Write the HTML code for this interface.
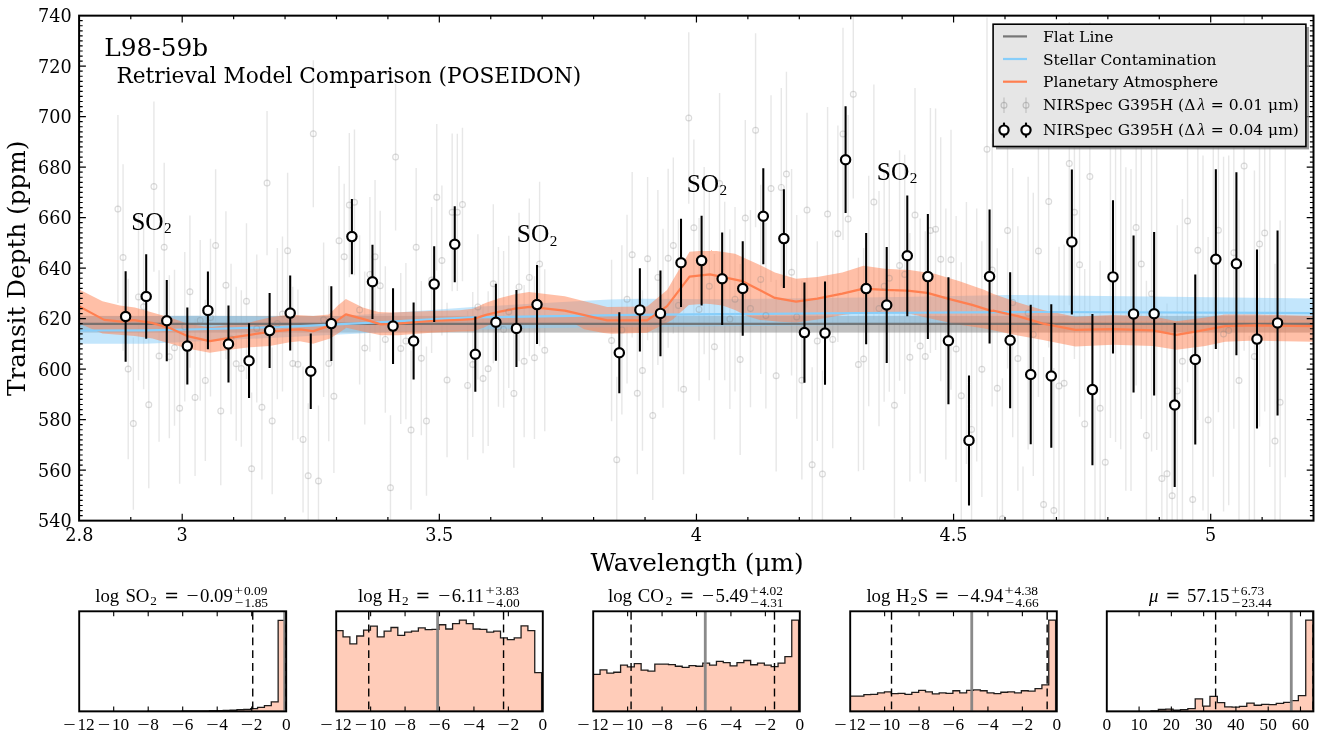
<!DOCTYPE html>
<html lang="en"><head><meta charset="utf-8"><title>L98-59b Retrieval Model Comparison (POSEIDON)</title>
<style>html,body{margin:0;padding:0;background:#fff;}body{width:1323px;height:737px;overflow:hidden;}svg{display:block;}svg{font-family:"DejaVu Serif", "Liberation Serif", serif;}text{fill:#000;}.m{font-family:"Liberation Serif", "DejaVu Serif", serif;}</style></head><body>
<svg width="1323" height="737" viewBox="0 0 1323 737">
<rect x="0" y="0" width="1323" height="737" fill="#fff"/>
<defs><clipPath id="cm"><rect x="79.1" y="15.65" width="1234.4" height="505"/></clipPath></defs>
<g clip-path="url(#cm)">
<g stroke="#7f7f7f" stroke-opacity="0.19" stroke-width="1.4" fill="none">
<path d="M117.92 115.1V303.1M123.06 164.25V350.75M128.2 278.83V459.17M133.35 337.46V509.74M138.49 213.55V380.25M143.63 224.19V389.21M148.77 321.19V488.21M153.92 101.48V271.72M159.06 270.31V441.69M164.2 162.87V331.73M169.34 275.19V438.21M174.49 269.63V425.77M179.63 332.63V483.77M184.77 252.03V401.57M189.91 215.58V367.82M195.06 318.76V476.04M200.2 239.99V400.81M205.34 299.86V460.94M210.48 238.76V396.44M215.63 169.24V321.76M220.77 336.55V485.25M225.91 211.16V359.24M231.05 263.77V414.23M236.2 286.68V440.72M241.34 290.27V446.73M246.48 223.28V379.12M251.62 392.52V545.08M256.77 254.4V402.6M261.91 334.85V479.55M267.05 111.04V255.16M272.19 347.52V494.28M277.34 248V399.2M282.48 236.62V391.58M287.62 172.84V328.76M292.76 286.65V440.35M297.91 289.39V439.01M303.05 366.4V512.4M308.19 403.28V548.32M313.33 60.15V207.25M318.48 405.54V556.46M323.62 242.58V397.02M328.76 285.79V441.21M333.9 319.48V472.92M339.05 166.02V315.58M344.19 183.85V329.55M349.33 132.98V277.22M354.47 129.41V275.19M359.62 235.21V384.59M364.76 271.45V424.55M369.9 197.11V351.69M375.04 180.04V333.36M380.19 210.66V360.74M385.33 266.17V412.63M390.47 415.36V560.24M395.61 83.79V230.41M400.76 272.96V424.04M405.9 263.02V419.18M411.04 350.44V509.76M416.18 168.04V326.56M421.33 281.08V435.32M426.47 346.49V495.71M431.61 207.01V352.99M436.75 124.12V270.48M441.9 185.5V335.5M447.04 302.68V457.32M452.18 133.44V291.16M457.32 133.66V290.94M462.47 127.85V281.35M467.61 311.12V459.68M472.75 291.99V437.01M477.89 234.27V379.53M483.04 303.85V453.15M488.18 291.31V446.09M493.32 204.15V363.25M498.46 246.88V406.72M503.61 250.99V407.81M508.75 235.69V387.91M513.89 319.09V467.71M519.03 212.63V361.17M524.18 285.04V437.36M529.32 198.43V356.37M534.46 276.3V439.1M539.6 181.84V346.16M544.75 269.22V431.18M611.6 259.84V421.36M616.74 376.64V542.96M621.88 245.35V414.45M627.03 214.85V383.55M632.17 172.05V337.55M637.31 312.23V474.17M642.45 290.13V450.87M647.6 177.06V340.34M652.74 331.17V500.03M657.88 189.88V364.92M663.02 228.8V407.8M668.17 168.64V347.76M673.31 157.51V333.49M678.45 219.4V391.4M683.59 304.24V474.16M688.74 32.25V203.75M693.88 139.52V316.08M699.02 218.05V400.75M704.16 167V354.2M709.31 192.12V380.28M714.45 253.99V439.41M719.59 92.95V274.25M724.73 201.66V380.34M729.88 229.24V408.96M735.02 206.88V391.52M740.16 263.91V455.09M745.3 120.04V316.16M750.45 210.04V407.16M755.59 33.15V227.25M760.73 184.82V373.98M765.87 222.67V408.53M771.02 95.27V281.93M776.16 279.85V471.55M781.3 87.93V286.87M786.44 71.7V276.5M791.59 168.93V375.47M796.73 214.95V418.85M801.87 280.8V479.6M807.01 112.65V307.55M812.16 367.28V562.32M817.3 241.24V440.96M822.44 370.5V577.7M827.58 107V321.2M832.73 230.56V448.24M837.87 125.58V342.02M843.01 27.86V239.94M848.15 114.95V323.25M853.3 -9.99V198.39M858.44 257.83V471.17M863.58 248.1V469.9M868.72 175.86V406.14M873.87 84.45V319.75M879.01 191V426.2M884.15 170.57V401.83M889.29 164.69V391.71M894.44 292.1V518.3M899.58 150.16V380.84M904.72 154.71V394.09M909.86 232.89V481.51M915.01 87.88V342.32M920.15 218.59V473.41M925.29 231.19V481.81M930.43 108.08V352.92M935.58 108.48V350.12M940.72 137.2V381.2M945.86 208.41V459.59M951 129.71V389.69M956.15 215.92V482.08M961.29 262.32V529.08M966.43 201.88V464.12M971.57 301.28V557.52M976.72 208.42V461.58M981.86 241.36V497.04M987 17.38V281.02M992.14 133.4V406.6M997.29 248.32V528.08M1002.43 378.36V659.04M1007.57 92.54V368.46M1012.71 168.07V437.13M1017.86 226.18V490.82M1023 466.61V732.39M1028.14 176.68V449.52M1033.28 192.86V475.94M1038.43 105.1V396.9M1043.57 356.99V652.01M1048.71 55.59V347.61M1053.85 368.05V652.95M1059 246.63V525.17M1064.14 244.39V522.01M1069.28 22.04V305.16M1074.42 65.51V359.09M1079.57 112.54V416.86M1084.71 269V578.8M1089.85 22.3V330.9M1094.99 398.73V700.67M1100.14 260.81V555.59M1105.28 315.86V608.74M1110.42 140.07V437.93M1115.56 134.04V441.96M1120.71 130.87V449.13M1125.85 167.2V490.8M1130.99 169.05V490.95M1136.13 69.61V385.39M1141.28 108.97V419.03M1146.42 280.83V589.97M1151.56 135.97V451.43M1156.7 124.02V449.98M1161.85 310.79V646.41M1166.99 303.51V644.09M1172.13 326.71V664.89M1177.27 225.25V556.55M1182.42 198.88V523.52M1187.56 59.86V382.14M1192.7 335.83V663.17M1197.84 80.33V420.07M1202.99 155.57V510.43M1208.13 236.92V602.88M1213.27 107.3V476.7M1218.41 48.24V412.36M1223.56 156.63V511.57M1228.7 155.56V505.24M1233.84 76.58V428.82M1238.98 200.31V560.69M1244.13 -18.54V350.74M1249.27 335.63V710.17M1254.41 170.43V542.57M1259.55 61.56V426.44M1264.7 54.48V411.52M1269.84 114.94V467.06M1274.98 263.76V618.44M1280.12 220.39V584.01M1285.27 102.64V477.36"/>
</g>
<rect x="79.1" y="315.9" width="1234.4" height="16.7" fill="#808080" fill-opacity="0.5"/>
<polygon points="79.35,316.5 200,315.7 260,316.4 330,316.6 390,313 473,307 590,300.6 610,299.6 640,298.8 720,299.2 900,297 1008,295 1170,296.8 1313.6,298.6 1313.6,320 1040,322 860,325 720,326.3 540,328 400,331.5 170,342.8 145,343.8 79.35,343.7" fill="#87cefa" fill-opacity="0.5"/>
<polygon points="79.24,289.43 102.45,301.16 119.93,305.4 134.9,307.4 152.38,312.39 169.85,317.38 187.32,323.62 209.79,327.37 229.76,324.87 249.73,322.38 269.7,317.38 289.67,314.39 299.91,315.14 313.14,315.89 328.86,314.39 337.85,305.4 345.84,298.91 362.81,307.4 378.54,311.89 391.5,312.39 430.69,310.89 459.9,310.14 472.88,308.65 486.11,302.66 499.09,298.16 514.81,294.17 529.04,291.92 564.74,296.17 607.17,306.9 647.11,306.4 667.08,289.93 689.55,251.73 712.02,249.99 710,249.99 734.96,253.73 759.93,264.96 774.9,272.45 796.12,278.69 817.34,276.94 842.3,272.45 863.52,265.71 884.74,268.71 909.7,269.96 934.66,273.7 959.63,281.19 984.59,289.93 993,293.67 1017.96,302.41 1042.93,309.9 1075.38,316.64 1112.82,314.89 1152.76,316.14 1176.47,321.13 1205.18,317.38 1225.15,314.39 1255.11,314.39 1315.02,316.14 1315.02,341.85 1255.11,340.6 1225.15,341.85 1205.18,346.09 1176.47,349.84 1152.76,346.09 1112.82,344.84 1075.38,346.59 1042.93,340.1 1017.96,335.61 993,330.36 984.59,328.62 959.63,324.87 934.66,319.38 909.7,313.64 884.74,311.89 863.52,312.39 842.3,314.89 817.34,319.38 796.12,322.38 779.9,321.63 759.93,319.88 747.44,316.14 734.96,309.9 722.48,305.4 710,303.9 705.03,303.65 688.8,304.9 672.08,319.88 647.11,332.86 611.67,333.86 603.68,333.11 584.21,329.37 574.97,324.12 489.85,324.62 483.61,327.87 472.88,331.36 459.9,331.61 430.69,332.86 397.99,335.36 381.03,335.36 362.81,331.61 346.34,327.87 339.1,332.86 330.11,338.6 313.14,343.84 299.91,341.35 289.67,342.35 269.7,346.09 249.73,347.34 229.76,349.84 209.79,352.83 187.32,348.59 169.85,343.59 152.38,338.6 134.9,336.11 102.45,333.61 79.24,323.62" fill="#ff7f50" fill-opacity="0.5"/>
<line x1="79.1" x2="1313.5" y1="323.8" y2="323.8" stroke="#696969" stroke-width="2.2" stroke-opacity="0.85"/>
<polyline points="79.35,330.5 145,330.3 210,329 270,327.3 300,326.2 378,322.3 431,319.4 473,317.3 540,316.4 633,314.8 720,314.2 860,313 1040,312 1313.6,313.1" fill="none" stroke="#87cefa" stroke-width="2.2" stroke-linejoin="round"/>
<polyline points="79.24,306.4 104.2,319.88 121.67,321.63 133.65,320.13 151.88,322.88 169.85,328.12 187.32,336.11 209.79,341.1 229.76,337.85 249.73,334.86 269.7,331.86 289.67,329.87 299.91,329.37 313.14,331.11 330.11,325.62 345.84,314.39 362.81,318.88 381.03,324.37 397.99,323.62 430.69,321 459.9,319.88 472.88,319.13 486.11,314.89 499.84,311.64 514.81,308.65 529.79,306.9 564.74,310.64 607.17,320.38 647.11,320.38 667.08,306.15 689.55,276.69 710,274.45 742.45,281.19 774.9,297.91 796.12,301.66 817.34,298.66 842.3,293.67 863.52,288.68 884.74,289.93 907.2,290.67 927.17,292.92 949.64,299.16 972.11,304.9 992.08,311.14 993,310.64 1017.96,316.14 1042.93,323.62 1075.38,329.87 1112.82,329.12 1152.76,330.36 1176.47,334.86 1205.18,329.87 1225.15,326.12 1255.11,325.37 1315.02,326.12" fill="none" stroke="#ff7f50" stroke-width="2.2" stroke-linejoin="round"/>
<g stroke="#7f7f7f" stroke-opacity="0.28" stroke-width="1.2" fill="none">
<circle cx="117.92" cy="209.1" r="2.9"/>
<circle cx="123.06" cy="257.5" r="2.9"/>
<circle cx="128.2" cy="369" r="2.9"/>
<circle cx="133.35" cy="423.6" r="2.9"/>
<circle cx="138.49" cy="296.9" r="2.9"/>
<circle cx="143.63" cy="306.7" r="2.9"/>
<circle cx="148.77" cy="404.7" r="2.9"/>
<circle cx="153.92" cy="186.6" r="2.9"/>
<circle cx="159.06" cy="356" r="2.9"/>
<circle cx="164.2" cy="247.3" r="2.9"/>
<circle cx="169.34" cy="356.7" r="2.9"/>
<circle cx="174.49" cy="347.7" r="2.9"/>
<circle cx="179.63" cy="408.2" r="2.9"/>
<circle cx="184.77" cy="326.8" r="2.9"/>
<circle cx="189.91" cy="291.7" r="2.9"/>
<circle cx="195.06" cy="397.4" r="2.9"/>
<circle cx="200.2" cy="320.4" r="2.9"/>
<circle cx="205.34" cy="380.4" r="2.9"/>
<circle cx="210.48" cy="317.6" r="2.9"/>
<circle cx="215.63" cy="245.5" r="2.9"/>
<circle cx="220.77" cy="410.9" r="2.9"/>
<circle cx="225.91" cy="285.2" r="2.9"/>
<circle cx="231.05" cy="339" r="2.9"/>
<circle cx="236.2" cy="363.7" r="2.9"/>
<circle cx="241.34" cy="368.5" r="2.9"/>
<circle cx="246.48" cy="301.2" r="2.9"/>
<circle cx="251.62" cy="468.8" r="2.9"/>
<circle cx="256.77" cy="328.5" r="2.9"/>
<circle cx="261.91" cy="407.2" r="2.9"/>
<circle cx="267.05" cy="183.1" r="2.9"/>
<circle cx="272.19" cy="420.9" r="2.9"/>
<circle cx="277.34" cy="323.6" r="2.9"/>
<circle cx="282.48" cy="314.1" r="2.9"/>
<circle cx="287.62" cy="250.8" r="2.9"/>
<circle cx="292.76" cy="363.5" r="2.9"/>
<circle cx="297.91" cy="364.2" r="2.9"/>
<circle cx="303.05" cy="439.4" r="2.9"/>
<circle cx="308.19" cy="475.8" r="2.9"/>
<circle cx="313.33" cy="133.7" r="2.9"/>
<circle cx="318.48" cy="481" r="2.9"/>
<circle cx="323.62" cy="319.8" r="2.9"/>
<circle cx="328.76" cy="363.5" r="2.9"/>
<circle cx="333.9" cy="396.2" r="2.9"/>
<circle cx="339.05" cy="240.8" r="2.9"/>
<circle cx="344.19" cy="256.7" r="2.9"/>
<circle cx="349.33" cy="205.1" r="2.9"/>
<circle cx="354.47" cy="202.3" r="2.9"/>
<circle cx="359.62" cy="309.9" r="2.9"/>
<circle cx="364.76" cy="348" r="2.9"/>
<circle cx="369.9" cy="274.4" r="2.9"/>
<circle cx="375.04" cy="256.7" r="2.9"/>
<circle cx="380.19" cy="285.7" r="2.9"/>
<circle cx="385.33" cy="339.4" r="2.9"/>
<circle cx="390.47" cy="487.8" r="2.9"/>
<circle cx="395.61" cy="157.1" r="2.9"/>
<circle cx="400.76" cy="348.5" r="2.9"/>
<circle cx="405.9" cy="341.1" r="2.9"/>
<circle cx="411.04" cy="430.1" r="2.9"/>
<circle cx="416.18" cy="247.3" r="2.9"/>
<circle cx="421.33" cy="358.2" r="2.9"/>
<circle cx="426.47" cy="421.1" r="2.9"/>
<circle cx="431.61" cy="280" r="2.9"/>
<circle cx="436.75" cy="197.3" r="2.9"/>
<circle cx="441.9" cy="260.5" r="2.9"/>
<circle cx="447.04" cy="380" r="2.9"/>
<circle cx="452.18" cy="212.3" r="2.9"/>
<circle cx="457.32" cy="212.3" r="2.9"/>
<circle cx="462.47" cy="204.6" r="2.9"/>
<circle cx="467.61" cy="385.4" r="2.9"/>
<circle cx="472.75" cy="364.5" r="2.9"/>
<circle cx="477.89" cy="306.9" r="2.9"/>
<circle cx="483.04" cy="378.5" r="2.9"/>
<circle cx="488.18" cy="368.7" r="2.9"/>
<circle cx="493.32" cy="283.7" r="2.9"/>
<circle cx="498.46" cy="326.8" r="2.9"/>
<circle cx="503.61" cy="329.4" r="2.9"/>
<circle cx="508.75" cy="311.8" r="2.9"/>
<circle cx="513.89" cy="393.4" r="2.9"/>
<circle cx="519.03" cy="286.9" r="2.9"/>
<circle cx="524.18" cy="361.2" r="2.9"/>
<circle cx="529.32" cy="277.4" r="2.9"/>
<circle cx="534.46" cy="357.7" r="2.9"/>
<circle cx="539.6" cy="264" r="2.9"/>
<circle cx="544.75" cy="350.2" r="2.9"/>
<circle cx="611.6" cy="340.6" r="2.9"/>
<circle cx="616.74" cy="459.8" r="2.9"/>
<circle cx="621.88" cy="329.9" r="2.9"/>
<circle cx="627.03" cy="299.2" r="2.9"/>
<circle cx="632.17" cy="254.8" r="2.9"/>
<circle cx="637.31" cy="393.2" r="2.9"/>
<circle cx="642.45" cy="370.5" r="2.9"/>
<circle cx="647.6" cy="258.7" r="2.9"/>
<circle cx="652.74" cy="415.6" r="2.9"/>
<circle cx="657.88" cy="277.4" r="2.9"/>
<circle cx="663.02" cy="318.3" r="2.9"/>
<circle cx="668.17" cy="258.2" r="2.9"/>
<circle cx="673.31" cy="245.5" r="2.9"/>
<circle cx="678.45" cy="305.4" r="2.9"/>
<circle cx="683.59" cy="389.2" r="2.9"/>
<circle cx="688.74" cy="118" r="2.9"/>
<circle cx="693.88" cy="227.8" r="2.9"/>
<circle cx="699.02" cy="309.4" r="2.9"/>
<circle cx="704.16" cy="260.6" r="2.9"/>
<circle cx="709.31" cy="286.2" r="2.9"/>
<circle cx="714.45" cy="346.7" r="2.9"/>
<circle cx="719.59" cy="183.6" r="2.9"/>
<circle cx="729.88" cy="319.1" r="2.9"/>
<circle cx="735.02" cy="299.2" r="2.9"/>
<circle cx="740.16" cy="359.5" r="2.9"/>
<circle cx="745.3" cy="218.1" r="2.9"/>
<circle cx="750.45" cy="308.6" r="2.9"/>
<circle cx="755.59" cy="130.2" r="2.9"/>
<circle cx="760.73" cy="279.4" r="2.9"/>
<circle cx="765.87" cy="315.6" r="2.9"/>
<circle cx="771.02" cy="188.6" r="2.9"/>
<circle cx="776.16" cy="375.7" r="2.9"/>
<circle cx="781.3" cy="187.4" r="2.9"/>
<circle cx="786.44" cy="174.1" r="2.9"/>
<circle cx="791.59" cy="272.2" r="2.9"/>
<circle cx="796.73" cy="316.9" r="2.9"/>
<circle cx="801.87" cy="380.2" r="2.9"/>
<circle cx="807.01" cy="210.1" r="2.9"/>
<circle cx="812.16" cy="464.8" r="2.9"/>
<circle cx="817.3" cy="341.1" r="2.9"/>
<circle cx="822.44" cy="474.1" r="2.9"/>
<circle cx="827.58" cy="214.1" r="2.9"/>
<circle cx="832.73" cy="339.4" r="2.9"/>
<circle cx="837.87" cy="233.8" r="2.9"/>
<circle cx="843.01" cy="133.9" r="2.9"/>
<circle cx="848.15" cy="219.1" r="2.9"/>
<circle cx="853.3" cy="94.2" r="2.9"/>
<circle cx="858.44" cy="364.5" r="2.9"/>
<circle cx="863.58" cy="359" r="2.9"/>
<circle cx="873.87" cy="202.1" r="2.9"/>
<circle cx="879.01" cy="308.6" r="2.9"/>
<circle cx="884.15" cy="286.2" r="2.9"/>
<circle cx="889.29" cy="278.2" r="2.9"/>
<circle cx="894.44" cy="405.2" r="2.9"/>
<circle cx="899.58" cy="265.5" r="2.9"/>
<circle cx="904.72" cy="274.4" r="2.9"/>
<circle cx="909.86" cy="357.2" r="2.9"/>
<circle cx="915.01" cy="215.1" r="2.9"/>
<circle cx="920.15" cy="346" r="2.9"/>
<circle cx="925.29" cy="356.5" r="2.9"/>
<circle cx="930.43" cy="230.5" r="2.9"/>
<circle cx="935.58" cy="229.3" r="2.9"/>
<circle cx="940.72" cy="259.2" r="2.9"/>
<circle cx="951" cy="259.7" r="2.9"/>
<circle cx="956.15" cy="349" r="2.9"/>
<circle cx="961.29" cy="395.7" r="2.9"/>
<circle cx="971.57" cy="429.4" r="2.9"/>
<circle cx="981.86" cy="369.2" r="2.9"/>
<circle cx="987" cy="149.2" r="2.9"/>
<circle cx="992.14" cy="270" r="2.9"/>
<circle cx="997.29" cy="388.2" r="2.9"/>
<circle cx="1002.43" cy="518.7" r="2.9"/>
<circle cx="1007.57" cy="230.5" r="2.9"/>
<circle cx="1012.71" cy="302.6" r="2.9"/>
<circle cx="1017.86" cy="358.5" r="2.9"/>
<circle cx="1028.14" cy="313.1" r="2.9"/>
<circle cx="1033.28" cy="334.4" r="2.9"/>
<circle cx="1038.43" cy="251" r="2.9"/>
<circle cx="1043.57" cy="504.5" r="2.9"/>
<circle cx="1048.71" cy="201.6" r="2.9"/>
<circle cx="1053.85" cy="510.5" r="2.9"/>
<circle cx="1059" cy="385.9" r="2.9"/>
<circle cx="1064.14" cy="383.2" r="2.9"/>
<circle cx="1069.28" cy="163.6" r="2.9"/>
<circle cx="1074.42" cy="212.3" r="2.9"/>
<circle cx="1079.57" cy="264.7" r="2.9"/>
<circle cx="1084.71" cy="423.9" r="2.9"/>
<circle cx="1089.85" cy="176.6" r="2.9"/>
<circle cx="1100.14" cy="408.2" r="2.9"/>
<circle cx="1105.28" cy="462.3" r="2.9"/>
<circle cx="1136.13" cy="227.5" r="2.9"/>
<circle cx="1141.28" cy="264" r="2.9"/>
<circle cx="1146.42" cy="435.4" r="2.9"/>
<circle cx="1151.56" cy="293.7" r="2.9"/>
<circle cx="1161.85" cy="478.6" r="2.9"/>
<circle cx="1166.99" cy="473.8" r="2.9"/>
<circle cx="1172.13" cy="495.8" r="2.9"/>
<circle cx="1177.27" cy="390.9" r="2.9"/>
<circle cx="1182.42" cy="361.2" r="2.9"/>
<circle cx="1187.56" cy="221" r="2.9"/>
<circle cx="1192.7" cy="499.5" r="2.9"/>
<circle cx="1197.84" cy="250.2" r="2.9"/>
<circle cx="1208.13" cy="419.9" r="2.9"/>
<circle cx="1218.41" cy="230.3" r="2.9"/>
<circle cx="1223.56" cy="334.1" r="2.9"/>
<circle cx="1228.7" cy="330.4" r="2.9"/>
<circle cx="1233.84" cy="252.7" r="2.9"/>
<circle cx="1238.98" cy="380.5" r="2.9"/>
<circle cx="1244.13" cy="166.1" r="2.9"/>
<circle cx="1254.41" cy="356.5" r="2.9"/>
<circle cx="1259.55" cy="244" r="2.9"/>
<circle cx="1264.7" cy="233" r="2.9"/>
<circle cx="1274.98" cy="441.1" r="2.9"/>
<circle cx="1280.12" cy="402.2" r="2.9"/>
</g>
<path d="M125.63 271.3V361.7M146.2 254.2V338.8M166.77 280.1V361.3M187.34 307.6V384.6M207.91 271.5V349.3M228.48 305.6V382.4M249.05 323.3V398.1M269.62 293.1V368.1M290.19 275.6V350.6M310.76 333.5V409.1M331.33 286.3V360.9M351.9 199V274.2M372.47 244.7V318.9M393.04 288.3V363.9M413.61 302.6V379.4M434.18 246.2V322M454.75 206.3V282.3M475.32 316.6V391.8M495.89 283.7V360.7M516.46 289.9V366.9M537.03 265.1V344.1M619.31 312.3V393.3M639.88 268.2V351.6M660.45 270.5V356.3M681.02 218.7V306.9M701.59 215.7V305.5M722.16 232.4V325M742.73 241.3V335.7M763.3 168.3V264.3M783.87 189.2V288M804.44 282.4V382.8M825.01 281.4V384.8M845.58 106.3V213.1M866.15 232.9V344.3M886.72 247V363M907.29 195.4V316.2M927.86 214.1V339.1M948.43 277.3V404.3M969 375.4V505.4M989.57 209.4V343.6M1010.14 272.3V408.3M1030.71 304.8V444.2M1051.28 304.2V447.8M1071.85 169.4V314.4M1092.42 313.9V465.3M1112.99 200.3V353.5M1133.56 235.4V392.4M1154.13 232V395.4M1174.7 323V487M1195.27 274.5V444.5M1215.84 169.3V349.1M1236.41 172.3V355.3M1256.98 249.6V428.6M1277.55 230.4V415.4" stroke="#000" stroke-width="2.05" fill="none"/>
<g stroke="#000" stroke-width="2.2" fill="#fff">
<circle cx="125.63" cy="316.5" r="4.65"/>
<circle cx="146.2" cy="296.5" r="4.65"/>
<circle cx="166.77" cy="320.7" r="4.65"/>
<circle cx="187.34" cy="346.1" r="4.65"/>
<circle cx="207.91" cy="310.4" r="4.65"/>
<circle cx="228.48" cy="344" r="4.65"/>
<circle cx="249.05" cy="360.7" r="4.65"/>
<circle cx="269.62" cy="330.6" r="4.65"/>
<circle cx="290.19" cy="313.1" r="4.65"/>
<circle cx="310.76" cy="371.3" r="4.65"/>
<circle cx="331.33" cy="323.6" r="4.65"/>
<circle cx="351.9" cy="236.6" r="4.65"/>
<circle cx="372.47" cy="281.8" r="4.65"/>
<circle cx="393.04" cy="326.1" r="4.65"/>
<circle cx="413.61" cy="341" r="4.65"/>
<circle cx="434.18" cy="284.1" r="4.65"/>
<circle cx="454.75" cy="244.3" r="4.65"/>
<circle cx="475.32" cy="354.2" r="4.65"/>
<circle cx="495.89" cy="322.2" r="4.65"/>
<circle cx="516.46" cy="328.4" r="4.65"/>
<circle cx="537.03" cy="304.6" r="4.65"/>
<circle cx="619.31" cy="352.8" r="4.65"/>
<circle cx="639.88" cy="309.9" r="4.65"/>
<circle cx="660.45" cy="313.4" r="4.65"/>
<circle cx="681.02" cy="262.8" r="4.65"/>
<circle cx="701.59" cy="260.6" r="4.65"/>
<circle cx="722.16" cy="278.7" r="4.65"/>
<circle cx="742.73" cy="288.5" r="4.65"/>
<circle cx="763.3" cy="216.3" r="4.65"/>
<circle cx="783.87" cy="238.6" r="4.65"/>
<circle cx="804.44" cy="332.6" r="4.65"/>
<circle cx="825.01" cy="333.1" r="4.65"/>
<circle cx="845.58" cy="159.7" r="4.65"/>
<circle cx="866.15" cy="288.6" r="4.65"/>
<circle cx="886.72" cy="305" r="4.65"/>
<circle cx="907.29" cy="255.8" r="4.65"/>
<circle cx="927.86" cy="276.6" r="4.65"/>
<circle cx="948.43" cy="340.8" r="4.65"/>
<circle cx="969" cy="440.4" r="4.65"/>
<circle cx="989.57" cy="276.5" r="4.65"/>
<circle cx="1010.14" cy="340.3" r="4.65"/>
<circle cx="1030.71" cy="374.5" r="4.65"/>
<circle cx="1051.28" cy="376" r="4.65"/>
<circle cx="1071.85" cy="241.9" r="4.65"/>
<circle cx="1092.42" cy="389.6" r="4.65"/>
<circle cx="1112.99" cy="276.9" r="4.65"/>
<circle cx="1133.56" cy="313.9" r="4.65"/>
<circle cx="1154.13" cy="313.7" r="4.65"/>
<circle cx="1174.7" cy="405" r="4.65"/>
<circle cx="1195.27" cy="359.5" r="4.65"/>
<circle cx="1215.84" cy="259.2" r="4.65"/>
<circle cx="1236.41" cy="263.8" r="4.65"/>
<circle cx="1256.98" cy="339.1" r="4.65"/>
<circle cx="1277.55" cy="322.9" r="4.65"/>
</g>
</g>
<path d="M79.1 515.6h3.6M1313.5 515.6h-3.6M79.1 510.55h3.6M1313.5 510.55h-3.6M79.1 505.5h3.6M1313.5 505.5h-3.6M79.1 500.45h3.6M1313.5 500.45h-3.6M79.1 495.4h3.6M1313.5 495.4h-3.6M79.1 490.35h3.6M1313.5 490.35h-3.6M79.1 485.3h3.6M1313.5 485.3h-3.6M79.1 480.25h3.6M1313.5 480.25h-3.6M79.1 475.2h3.6M1313.5 475.2h-3.6M79.1 470.15h6.8M1313.5 470.15h-6.8M79.1 465.1h3.6M1313.5 465.1h-3.6M79.1 460.05h3.6M1313.5 460.05h-3.6M79.1 455h3.6M1313.5 455h-3.6M79.1 449.95h3.6M1313.5 449.95h-3.6M79.1 444.9h3.6M1313.5 444.9h-3.6M79.1 439.85h3.6M1313.5 439.85h-3.6M79.1 434.8h3.6M1313.5 434.8h-3.6M79.1 429.75h3.6M1313.5 429.75h-3.6M79.1 424.7h3.6M1313.5 424.7h-3.6M79.1 419.65h6.8M1313.5 419.65h-6.8M79.1 414.6h3.6M1313.5 414.6h-3.6M79.1 409.55h3.6M1313.5 409.55h-3.6M79.1 404.5h3.6M1313.5 404.5h-3.6M79.1 399.45h3.6M1313.5 399.45h-3.6M79.1 394.4h3.6M1313.5 394.4h-3.6M79.1 389.35h3.6M1313.5 389.35h-3.6M79.1 384.3h3.6M1313.5 384.3h-3.6M79.1 379.25h3.6M1313.5 379.25h-3.6M79.1 374.2h3.6M1313.5 374.2h-3.6M79.1 369.15h6.8M1313.5 369.15h-6.8M79.1 364.1h3.6M1313.5 364.1h-3.6M79.1 359.05h3.6M1313.5 359.05h-3.6M79.1 354h3.6M1313.5 354h-3.6M79.1 348.95h3.6M1313.5 348.95h-3.6M79.1 343.9h3.6M1313.5 343.9h-3.6M79.1 338.85h3.6M1313.5 338.85h-3.6M79.1 333.8h3.6M1313.5 333.8h-3.6M79.1 328.75h3.6M1313.5 328.75h-3.6M79.1 323.7h3.6M1313.5 323.7h-3.6M79.1 318.65h6.8M1313.5 318.65h-6.8M79.1 313.6h3.6M1313.5 313.6h-3.6M79.1 308.55h3.6M1313.5 308.55h-3.6M79.1 303.5h3.6M1313.5 303.5h-3.6M79.1 298.45h3.6M1313.5 298.45h-3.6M79.1 293.4h3.6M1313.5 293.4h-3.6M79.1 288.35h3.6M1313.5 288.35h-3.6M79.1 283.3h3.6M1313.5 283.3h-3.6M79.1 278.25h3.6M1313.5 278.25h-3.6M79.1 273.2h3.6M1313.5 273.2h-3.6M79.1 268.15h6.8M1313.5 268.15h-6.8M79.1 263.1h3.6M1313.5 263.1h-3.6M79.1 258.05h3.6M1313.5 258.05h-3.6M79.1 253h3.6M1313.5 253h-3.6M79.1 247.95h3.6M1313.5 247.95h-3.6M79.1 242.9h3.6M1313.5 242.9h-3.6M79.1 237.85h3.6M1313.5 237.85h-3.6M79.1 232.8h3.6M1313.5 232.8h-3.6M79.1 227.75h3.6M1313.5 227.75h-3.6M79.1 222.7h3.6M1313.5 222.7h-3.6M79.1 217.65h6.8M1313.5 217.65h-6.8M79.1 212.6h3.6M1313.5 212.6h-3.6M79.1 207.55h3.6M1313.5 207.55h-3.6M79.1 202.5h3.6M1313.5 202.5h-3.6M79.1 197.45h3.6M1313.5 197.45h-3.6M79.1 192.4h3.6M1313.5 192.4h-3.6M79.1 187.35h3.6M1313.5 187.35h-3.6M79.1 182.3h3.6M1313.5 182.3h-3.6M79.1 177.25h3.6M1313.5 177.25h-3.6M79.1 172.2h3.6M1313.5 172.2h-3.6M79.1 167.15h6.8M1313.5 167.15h-6.8M79.1 162.1h3.6M1313.5 162.1h-3.6M79.1 157.05h3.6M1313.5 157.05h-3.6M79.1 152h3.6M1313.5 152h-3.6M79.1 146.95h3.6M1313.5 146.95h-3.6M79.1 141.9h3.6M1313.5 141.9h-3.6M79.1 136.85h3.6M1313.5 136.85h-3.6M79.1 131.8h3.6M1313.5 131.8h-3.6M79.1 126.75h3.6M1313.5 126.75h-3.6M79.1 121.7h3.6M1313.5 121.7h-3.6M79.1 116.65h6.8M1313.5 116.65h-6.8M79.1 111.6h3.6M1313.5 111.6h-3.6M79.1 106.55h3.6M1313.5 106.55h-3.6M79.1 101.5h3.6M1313.5 101.5h-3.6M79.1 96.45h3.6M1313.5 96.45h-3.6M79.1 91.4h3.6M1313.5 91.4h-3.6M79.1 86.35h3.6M1313.5 86.35h-3.6M79.1 81.3h3.6M1313.5 81.3h-3.6M79.1 76.25h3.6M1313.5 76.25h-3.6M79.1 71.2h3.6M1313.5 71.2h-3.6M79.1 66.15h6.8M1313.5 66.15h-6.8M79.1 61.1h3.6M1313.5 61.1h-3.6M79.1 56.05h3.6M1313.5 56.05h-3.6M79.1 51h3.6M1313.5 51h-3.6M79.1 45.95h3.6M1313.5 45.95h-3.6M79.1 40.9h3.6M1313.5 40.9h-3.6M79.1 35.85h3.6M1313.5 35.85h-3.6M79.1 30.8h3.6M1313.5 30.8h-3.6M79.1 25.75h3.6M1313.5 25.75h-3.6M79.1 20.7h3.6M1313.5 20.7h-3.6M130.78 520.65v-3.6M130.78 15.65v3.6M182.2 520.65v-6.8M182.2 15.65v6.8M233.63 520.65v-3.6M233.63 15.65v3.6M285.05 520.65v-3.6M285.05 15.65v3.6M336.48 520.65v-3.6M336.48 15.65v3.6M387.9 520.65v-3.6M387.9 15.65v3.6M439.33 520.65v-6.8M439.33 15.65v6.8M490.75 520.65v-3.6M490.75 15.65v3.6M542.18 520.65v-3.6M542.18 15.65v3.6M593.6 520.65v-3.6M593.6 15.65v3.6M645.03 520.65v-3.6M645.03 15.65v3.6M696.45 520.65v-6.8M696.45 15.65v6.8M747.87 520.65v-3.6M747.87 15.65v3.6M799.3 520.65v-3.6M799.3 15.65v3.6M850.73 520.65v-3.6M850.73 15.65v3.6M902.15 520.65v-3.6M902.15 15.65v3.6M953.58 520.65v-6.8M953.58 15.65v6.8M1005 520.65v-3.6M1005 15.65v3.6M1056.43 520.65v-3.6M1056.43 15.65v3.6M1107.85 520.65v-3.6M1107.85 15.65v3.6M1159.28 520.65v-3.6M1159.28 15.65v3.6M1210.7 520.65v-6.8M1210.7 15.65v6.8M1262.12 520.65v-3.6M1262.12 15.65v3.6" stroke="#000" stroke-width="1.2" fill="none"/>
<rect x="79.1" y="15.65" width="1234.4" height="505" fill="none" stroke="#000" stroke-width="2"/>
<g font-size="17.6">
<text x="71.6" y="527.05" text-anchor="end">540</text>
<text x="71.6" y="476.55" text-anchor="end">560</text>
<text x="71.6" y="426.05" text-anchor="end">580</text>
<text x="71.6" y="375.55" text-anchor="end">600</text>
<text x="71.6" y="325.05" text-anchor="end">620</text>
<text x="71.6" y="274.55" text-anchor="end">640</text>
<text x="71.6" y="224.05" text-anchor="end">660</text>
<text x="71.6" y="173.55" text-anchor="end">680</text>
<text x="71.6" y="123.05" text-anchor="end">700</text>
<text x="71.6" y="72.55" text-anchor="end">720</text>
<text x="71.6" y="22.05" text-anchor="end">740</text>
<text x="79.35" y="541.3" text-anchor="middle">2.8</text>
<text x="182.2" y="541.3" text-anchor="middle">3</text>
<text x="439.33" y="541.3" text-anchor="middle">3.5</text>
<text x="696.45" y="541.3" text-anchor="middle">4</text>
<text x="953.58" y="541.3" text-anchor="middle">4.5</text>
<text x="1210.7" y="541.3" text-anchor="middle">5</text>
</g>
<text x="697" y="571.2" font-size="24.7" text-anchor="middle">Wavelength (μm)</text>
<text transform="translate(24.9 268.3) rotate(-90)" font-size="24.7" text-anchor="middle">Transit Depth (ppm)</text>
<text x="104.3" y="55.5" font-size="24.8">L98-59b</text>
<text x="116.4" y="83" font-size="21.7">Retrieval Model Comparison (POSEIDON)</text>
<text class="m" x="131.2" y="229.7" font-size="25.4">SO</text>
<text class="m" x="164.1" y="233.4" font-size="15.2">2</text>
<text class="m" x="516.8" y="242.1" font-size="25.4">SO</text>
<text class="m" x="549.7" y="245.8" font-size="15.2">2</text>
<text class="m" x="686.7" y="191.7" font-size="25.4">SO</text>
<text class="m" x="719.6" y="195.4" font-size="15.2">2</text>
<text class="m" x="876.8" y="179.5" font-size="25.4">SO</text>
<text class="m" x="909.7" y="183.2" font-size="15.2">2</text>
<rect x="996" y="27" width="313" height="122.4" fill="#7a7a7a" fill-opacity="0.75"/>
<rect x="993.1" y="24.2" width="312.8" height="122.3" fill="#e6e6e6" stroke="#000" stroke-width="1.6"/>
<line x1="1003" x2="1027" y1="36.4" y2="36.4" stroke="#696969" stroke-width="2.2" stroke-opacity="0.9"/>
<line x1="1003" x2="1027" y1="59.0" y2="59.0" stroke="#87cefa" stroke-width="2.2"/>
<line x1="1003" x2="1027" y1="81.7" y2="81.7" stroke="#ff7f50" stroke-width="2.2"/>
<path d="M1004 97.6v15.4" stroke="#7f7f7f" stroke-opacity="0.3" stroke-width="1.4"/>
<circle cx="1004" cy="105.3" r="2.9" stroke="#7f7f7f" stroke-opacity="0.38" stroke-width="1.2" fill="none"/>
<path d="M1026 97.6v15.4" stroke="#7f7f7f" stroke-opacity="0.3" stroke-width="1.4"/>
<circle cx="1026" cy="105.3" r="2.9" stroke="#7f7f7f" stroke-opacity="0.38" stroke-width="1.2" fill="none"/>
<path d="M1004 122.6v15" stroke="#000" stroke-width="2.1"/>
<circle cx="1004" cy="130.1" r="4.6" stroke="#000" stroke-width="2.2" fill="#fff"/>
<path d="M1026 122.6v15" stroke="#000" stroke-width="2.1"/>
<circle cx="1026" cy="130.1" r="4.6" stroke="#000" stroke-width="2.2" fill="#fff"/>
<g font-size="15.5">
<text x="1043" y="41.9">Flat Line</text>
<text x="1043" y="64.5">Stellar Contamination</text>
<text x="1043" y="87.2">Planetary Atmosphere</text>
<text x="1043" y="110.1">NIRSpec G395H (Δ<tspan class="m" font-style="italic" font-size="17" dx="2.2">λ</tspan><tspan dx="0.9"> </tspan>= 0.01 μm)</text>
<text x="1043" y="135.1">NIRSpec G395H (Δ<tspan class="m" font-style="italic" font-size="17" dx="2.2">λ</tspan><tspan dx="0.9"> </tspan>= 0.04 μm)</text>
</g>
<defs><clipPath id="ch0"><rect x="79.2" y="611.3" width="207" height="100.1"/></clipPath></defs>
<g clip-path="url(#ch0)">
<path d="M79.2 711.4L79.2 711.4L86.06 711.4L86.06 711.4L92.92 711.4L92.92 711.4L99.78 711.4L99.78 711.4L106.64 711.4L106.64 711.4L113.5 711.4L113.5 711.4L120.36 711.4L120.36 711.4L127.22 711.4L127.22 711.4L134.08 711.4L134.08 711.31L140.94 711.31L140.94 711.31L147.8 711.31L147.8 711.2L154.66 711.2L154.66 711.2L161.52 711.2L161.52 711.2L168.38 711.2L168.38 711.1L175.24 711.1L175.24 711.1L182.1 711.1L182.1 710.99L188.96 710.99L188.96 710.99L195.82 710.99L195.82 710.88L202.68 710.88L202.68 710.78L209.54 710.78L209.54 710.67L216.4 710.67L216.4 710.56L223.26 710.56L223.26 710.35L230.12 710.35L230.12 710.14L236.98 710.14L236.98 709.71L243.84 709.71L243.84 709.29L250.7 709.29L250.7 708.65L257.56 708.65L257.56 707.37L264.42 707.37L264.42 705.67L271.28 705.67L271.28 701.83L278.14 701.83L278.14 620.47L285 620.47L285 711.4Z" fill="#ff7f50" fill-opacity="0.4" stroke="none"/>
<path d="M79.2 711.4L79.2 711.4L86.06 711.4L86.06 711.4L92.92 711.4L92.92 711.4L99.78 711.4L99.78 711.4L106.64 711.4L106.64 711.4L113.5 711.4L113.5 711.4L120.36 711.4L120.36 711.4L127.22 711.4L127.22 711.4L134.08 711.4L134.08 711.31L140.94 711.31L140.94 711.31L147.8 711.31L147.8 711.2L154.66 711.2L154.66 711.2L161.52 711.2L161.52 711.2L168.38 711.2L168.38 711.1L175.24 711.1L175.24 711.1L182.1 711.1L182.1 710.99L188.96 710.99L188.96 710.99L195.82 710.99L195.82 710.88L202.68 710.88L202.68 710.78L209.54 710.78L209.54 710.67L216.4 710.67L216.4 710.56L223.26 710.56L223.26 710.35L230.12 710.35L230.12 710.14L236.98 710.14L236.98 709.71L243.84 709.71L243.84 709.29L250.7 709.29L250.7 708.65L257.56 708.65L257.56 707.37L264.42 707.37L264.42 705.67L271.28 705.67L271.28 701.83L278.14 701.83L278.14 620.47L285 620.47L285 711.4Z" fill="none" stroke="#000" stroke-width="1.3" stroke-opacity="0.88" stroke-linejoin="miter"/>
<line x1="284.65" x2="284.65" y1="611.3" y2="711.4" stroke="#808080" stroke-width="2.8" stroke-opacity="0.92"/>
<line x1="252.74" x2="252.74" y1="611.8" y2="711.4" stroke="#000" stroke-width="1.4" stroke-dasharray="7.9 4.9"/>
<line x1="286.2" x2="286.2" y1="611.8" y2="711.4" stroke="#000" stroke-width="1.4" stroke-dasharray="7.9 4.9"/>
</g>
<path d="M113.7 711.4v-5M113.7 611.3v5M148.2 711.4v-5M148.2 611.3v5M182.7 711.4v-5M182.7 611.3v5M217.2 711.4v-5M217.2 611.3v5M251.7 711.4v-5M251.7 611.3v5" stroke="#000" stroke-width="1.1" fill="none"/>
<rect x="79.2" y="611.3" width="207" height="100.1" fill="none" stroke="#000" stroke-width="1.9"/>
<g class="m" font-size="17.3">
<text x="63.35" y="730.4" textLength="12.4" lengthAdjust="spacingAndGlyphs">−</text>
<text x="94.75" y="729.9" text-anchor="end">12</text>
<text x="97.85" y="730.4" textLength="12.4" lengthAdjust="spacingAndGlyphs">−</text>
<text x="129.25" y="729.9" text-anchor="end">10</text>
<text x="137.2" y="730.4" textLength="12.4" lengthAdjust="spacingAndGlyphs">−</text>
<text x="158.9" y="729.9" text-anchor="end">8</text>
<text x="171.7" y="730.4" textLength="12.4" lengthAdjust="spacingAndGlyphs">−</text>
<text x="193.4" y="729.9" text-anchor="end">6</text>
<text x="206.2" y="730.4" textLength="12.4" lengthAdjust="spacingAndGlyphs">−</text>
<text x="227.9" y="729.9" text-anchor="end">4</text>
<text x="240.7" y="730.4" textLength="12.4" lengthAdjust="spacingAndGlyphs">−</text>
<text x="262.4" y="729.9" text-anchor="end">2</text>
<text x="286.2" y="729.9" text-anchor="middle">0</text>
</g>
<text class="m" x="95.2" y="602.3" font-size="18.8">log</text>
<text class="m" x="125.4" y="602.3" font-size="18.8">SO</text>
<text class="m" x="150.3" y="605.4" font-size="13.2">2</text>
<text x="164.2" y="602.3" font-size="17.6">=</text>
<text class="m" x="186.45" y="602.3" font-size="18.8" textLength="12.1" lengthAdjust="spacingAndGlyphs">−</text>
<text class="m" x="200" y="602.3" font-size="18.8">0.09</text>
<text class="m" x="233.9" y="594.9" font-size="13.4" textLength="9.1" lengthAdjust="spacingAndGlyphs">+</text>
<text class="m" x="243.9" y="594.9" font-size="13.4">0.09</text>
<text class="m" x="234.8" y="606.9" font-size="13.4" textLength="8.6" lengthAdjust="spacingAndGlyphs">−</text>
<text class="m" x="244.6" y="606.9" font-size="13.4">1.85</text>
<defs><clipPath id="ch1"><rect x="336.2" y="611.3" width="206.6" height="100.1"/></clipPath></defs>
<g clip-path="url(#ch1)">
<path d="M336.2 711.4L336.2 630.69L343.05 630.69L343.05 636.87L349.89 636.87L349.89 643.9L356.74 643.9L356.74 636.02L363.59 636.02L363.59 630.05L370.43 630.05L370.43 626.22L377.28 626.22L377.28 636.87L384.13 636.87L384.13 631.12L390.97 631.12L390.97 627.5L397.82 627.5L397.82 635.38L404.67 635.38L404.67 632.18L411.51 632.18L411.51 631.12L418.36 631.12L418.36 627.92L425.21 627.92L425.21 629.63L432.05 629.63L432.05 629.41L438.9 629.41L438.9 624.73L445.75 624.73L445.75 628.99L452.59 628.99L452.59 623.66L459.44 623.66L459.44 620.04L466.29 620.04L466.29 623.66L473.13 623.66L473.13 628.99L479.98 628.99L479.98 629.41L486.83 629.41L486.83 632.18L493.67 632.18L493.67 631.12L500.52 631.12L500.52 637.93L507.37 637.93L507.37 639.64L514.21 639.64L514.21 637.93L521.06 637.93L521.06 625.79L527.91 625.79L527.91 630.69L534.75 630.69L534.75 672.65L541.6 672.65L541.6 711.4Z" fill="#ff7f50" fill-opacity="0.4" stroke="none"/>
<path d="M336.2 711.4L336.2 630.69L343.05 630.69L343.05 636.87L349.89 636.87L349.89 643.9L356.74 643.9L356.74 636.02L363.59 636.02L363.59 630.05L370.43 630.05L370.43 626.22L377.28 626.22L377.28 636.87L384.13 636.87L384.13 631.12L390.97 631.12L390.97 627.5L397.82 627.5L397.82 635.38L404.67 635.38L404.67 632.18L411.51 632.18L411.51 631.12L418.36 631.12L418.36 627.92L425.21 627.92L425.21 629.63L432.05 629.63L432.05 629.41L438.9 629.41L438.9 624.73L445.75 624.73L445.75 628.99L452.59 628.99L452.59 623.66L459.44 623.66L459.44 620.04L466.29 620.04L466.29 623.66L473.13 623.66L473.13 628.99L479.98 628.99L479.98 629.41L486.83 629.41L486.83 632.18L493.67 632.18L493.67 631.12L500.52 631.12L500.52 637.93L507.37 637.93L507.37 639.64L514.21 639.64L514.21 637.93L521.06 637.93L521.06 625.79L527.91 625.79L527.91 630.69L534.75 630.69L534.75 672.65L541.6 672.65L541.6 711.4Z" fill="none" stroke="#000" stroke-width="1.3" stroke-opacity="0.88" stroke-linejoin="miter"/>
<line x1="437.61" x2="437.61" y1="611.3" y2="711.4" stroke="#808080" stroke-width="2.8" stroke-opacity="0.92"/>
<line x1="368.74" x2="368.74" y1="611.8" y2="711.4" stroke="#000" stroke-width="1.4" stroke-dasharray="7.9 4.9"/>
<line x1="503.55" x2="503.55" y1="611.8" y2="711.4" stroke="#000" stroke-width="1.4" stroke-dasharray="7.9 4.9"/>
</g>
<path d="M370.63 711.4v-5M370.63 611.3v5M405.07 711.4v-5M405.07 611.3v5M439.5 711.4v-5M439.5 611.3v5M473.93 711.4v-5M473.93 611.3v5M508.37 711.4v-5M508.37 611.3v5" stroke="#000" stroke-width="1.1" fill="none"/>
<rect x="336.2" y="611.3" width="206.6" height="100.1" fill="none" stroke="#000" stroke-width="1.9"/>
<g class="m" font-size="17.3">
<text x="320.35" y="730.4" textLength="12.4" lengthAdjust="spacingAndGlyphs">−</text>
<text x="351.75" y="729.9" text-anchor="end">12</text>
<text x="354.78" y="730.4" textLength="12.4" lengthAdjust="spacingAndGlyphs">−</text>
<text x="386.18" y="729.9" text-anchor="end">10</text>
<text x="394.07" y="730.4" textLength="12.4" lengthAdjust="spacingAndGlyphs">−</text>
<text x="415.77" y="729.9" text-anchor="end">8</text>
<text x="428.5" y="730.4" textLength="12.4" lengthAdjust="spacingAndGlyphs">−</text>
<text x="450.2" y="729.9" text-anchor="end">6</text>
<text x="462.93" y="730.4" textLength="12.4" lengthAdjust="spacingAndGlyphs">−</text>
<text x="484.63" y="729.9" text-anchor="end">4</text>
<text x="497.37" y="730.4" textLength="12.4" lengthAdjust="spacingAndGlyphs">−</text>
<text x="519.07" y="729.9" text-anchor="end">2</text>
<text x="542.8" y="729.9" text-anchor="middle">0</text>
</g>
<text class="m" x="358.1" y="602.3" font-size="18.8">log</text>
<text class="m" x="387.4" y="602.3" font-size="18.8">H</text>
<text class="m" x="402" y="605.4" font-size="13.2">2</text>
<text x="415.5" y="602.3" font-size="17.6">=</text>
<text class="m" x="438.15" y="602.3" font-size="18.8" textLength="12.1" lengthAdjust="spacingAndGlyphs">−</text>
<text class="m" x="451.7" y="602.3" font-size="18.8">6.11</text>
<text class="m" x="485.6" y="594.9" font-size="13.4" textLength="9.1" lengthAdjust="spacingAndGlyphs">+</text>
<text class="m" x="495.6" y="594.9" font-size="13.4">3.83</text>
<text class="m" x="486.5" y="606.9" font-size="13.4" textLength="8.6" lengthAdjust="spacingAndGlyphs">−</text>
<text class="m" x="496.3" y="606.9" font-size="13.4">4.00</text>
<defs><clipPath id="ch2"><rect x="593.2" y="611.3" width="206.6" height="100.1"/></clipPath></defs>
<g clip-path="url(#ch2)">
<path d="M593.2 711.4L593.2 674.36L600.05 674.36L600.05 669.88L606.89 669.88L606.89 673.08L613.74 673.08L613.74 672.23L620.59 672.23L620.59 665.2L627.43 665.2L627.43 666.9L634.28 666.9L634.28 663.71L641.13 663.71L641.13 670.1L647.97 670.1L647.97 671.16L654.82 671.16L654.82 664.13L661.67 664.13L661.67 664.13L668.51 664.13L668.51 664.56L675.36 664.56L675.36 666.26L682.21 666.26L682.21 667.33L689.05 667.33L689.05 665.62L695.9 665.62L695.9 666.26L702.75 666.26L702.75 663.07L709.59 663.07L709.59 665.2L716.44 665.2L716.44 661.36L723.29 661.36L723.29 662.64L730.13 662.64L730.13 665.84L736.98 665.84L736.98 662.64L743.83 662.64L743.83 660.51L750.67 660.51L750.67 664.77L757.52 664.77L757.52 663.07L764.37 663.07L764.37 665.2L771.21 665.2L771.21 666.69L778.06 666.69L778.06 663.07L784.91 663.07L784.91 656.68L791.75 656.68L791.75 620.04L798.6 620.04L798.6 711.4Z" fill="#ff7f50" fill-opacity="0.4" stroke="none"/>
<path d="M593.2 711.4L593.2 674.36L600.05 674.36L600.05 669.88L606.89 669.88L606.89 673.08L613.74 673.08L613.74 672.23L620.59 672.23L620.59 665.2L627.43 665.2L627.43 666.9L634.28 666.9L634.28 663.71L641.13 663.71L641.13 670.1L647.97 670.1L647.97 671.16L654.82 671.16L654.82 664.13L661.67 664.13L661.67 664.13L668.51 664.13L668.51 664.56L675.36 664.56L675.36 666.26L682.21 666.26L682.21 667.33L689.05 667.33L689.05 665.62L695.9 665.62L695.9 666.26L702.75 666.26L702.75 663.07L709.59 663.07L709.59 665.2L716.44 665.2L716.44 661.36L723.29 661.36L723.29 662.64L730.13 662.64L730.13 665.84L736.98 665.84L736.98 662.64L743.83 662.64L743.83 660.51L750.67 660.51L750.67 664.77L757.52 664.77L757.52 663.07L764.37 663.07L764.37 665.2L771.21 665.2L771.21 666.69L778.06 666.69L778.06 663.07L784.91 663.07L784.91 656.68L791.75 656.68L791.75 620.04L798.6 620.04L798.6 711.4Z" fill="none" stroke="#000" stroke-width="1.3" stroke-opacity="0.88" stroke-linejoin="miter"/>
<line x1="705.28" x2="705.28" y1="611.3" y2="711.4" stroke="#808080" stroke-width="2.8" stroke-opacity="0.92"/>
<line x1="631.08" x2="631.08" y1="611.8" y2="711.4" stroke="#000" stroke-width="1.4" stroke-dasharray="7.9 4.9"/>
<line x1="774.49" x2="774.49" y1="611.8" y2="711.4" stroke="#000" stroke-width="1.4" stroke-dasharray="7.9 4.9"/>
</g>
<path d="M627.63 711.4v-5M627.63 611.3v5M662.07 711.4v-5M662.07 611.3v5M696.5 711.4v-5M696.5 611.3v5M730.93 711.4v-5M730.93 611.3v5M765.37 711.4v-5M765.37 611.3v5" stroke="#000" stroke-width="1.1" fill="none"/>
<rect x="593.2" y="611.3" width="206.6" height="100.1" fill="none" stroke="#000" stroke-width="1.9"/>
<g class="m" font-size="17.3">
<text x="577.35" y="730.4" textLength="12.4" lengthAdjust="spacingAndGlyphs">−</text>
<text x="608.75" y="729.9" text-anchor="end">12</text>
<text x="611.78" y="730.4" textLength="12.4" lengthAdjust="spacingAndGlyphs">−</text>
<text x="643.18" y="729.9" text-anchor="end">10</text>
<text x="651.07" y="730.4" textLength="12.4" lengthAdjust="spacingAndGlyphs">−</text>
<text x="672.77" y="729.9" text-anchor="end">8</text>
<text x="685.5" y="730.4" textLength="12.4" lengthAdjust="spacingAndGlyphs">−</text>
<text x="707.2" y="729.9" text-anchor="end">6</text>
<text x="719.93" y="730.4" textLength="12.4" lengthAdjust="spacingAndGlyphs">−</text>
<text x="741.63" y="729.9" text-anchor="end">4</text>
<text x="754.37" y="730.4" textLength="12.4" lengthAdjust="spacingAndGlyphs">−</text>
<text x="776.07" y="729.9" text-anchor="end">2</text>
<text x="799.8" y="729.9" text-anchor="middle">0</text>
</g>
<text class="m" x="608" y="602.3" font-size="18.8">log</text>
<text class="m" x="637.7" y="602.3" font-size="18.8">CO</text>
<text class="m" x="665.8" y="605.4" font-size="13.2">2</text>
<text x="679.4" y="602.3" font-size="17.6">=</text>
<text class="m" x="701.95" y="602.3" font-size="18.8" textLength="12.1" lengthAdjust="spacingAndGlyphs">−</text>
<text class="m" x="715.5" y="602.3" font-size="18.8">5.49</text>
<text class="m" x="749.4" y="594.9" font-size="13.4" textLength="9.1" lengthAdjust="spacingAndGlyphs">+</text>
<text class="m" x="759.4" y="594.9" font-size="13.4">4.02</text>
<text class="m" x="750.3" y="606.9" font-size="13.4" textLength="8.6" lengthAdjust="spacingAndGlyphs">−</text>
<text class="m" x="760.1" y="606.9" font-size="13.4">4.31</text>
<defs><clipPath id="ch3"><rect x="850.2" y="611.3" width="206.6" height="100.1"/></clipPath></defs>
<g clip-path="url(#ch3)">
<path d="M850.2 711.4L850.2 696.08L857.05 696.08L857.05 696.08L863.89 696.08L863.89 694.59L870.74 694.59L870.74 694.38L877.59 694.38L877.59 692.89L884.43 692.89L884.43 691.82L891.28 691.82L891.28 693.53L898.13 693.53L898.13 693.31L904.97 693.31L904.97 694.38L911.82 694.38L911.82 692.46L918.67 692.46L918.67 690.33L925.51 690.33L925.51 691.82L932.36 691.82L932.36 693.95L939.21 693.95L939.21 692.89L946.05 692.89L946.05 693.31L952.9 693.31L952.9 690.76L959.75 690.76L959.75 692.89L966.59 692.89L966.59 690.33L973.44 690.33L973.44 689.9L980.29 689.9L980.29 690.76L987.13 690.76L987.13 692.89L993.98 692.89L993.98 693.53L1000.83 693.53L1000.83 692.25L1007.67 692.25L1007.67 691.82L1014.52 691.82L1014.52 692.89L1021.37 692.89L1021.37 690.76L1028.21 690.76L1028.21 691.18L1035.06 691.18L1035.06 688.63L1041.91 688.63L1041.91 684.79L1048.75 684.79L1048.75 620.04L1055.6 620.04L1055.6 711.4Z" fill="#ff7f50" fill-opacity="0.4" stroke="none"/>
<path d="M850.2 711.4L850.2 696.08L857.05 696.08L857.05 696.08L863.89 696.08L863.89 694.59L870.74 694.59L870.74 694.38L877.59 694.38L877.59 692.89L884.43 692.89L884.43 691.82L891.28 691.82L891.28 693.53L898.13 693.53L898.13 693.31L904.97 693.31L904.97 694.38L911.82 694.38L911.82 692.46L918.67 692.46L918.67 690.33L925.51 690.33L925.51 691.82L932.36 691.82L932.36 693.95L939.21 693.95L939.21 692.89L946.05 692.89L946.05 693.31L952.9 693.31L952.9 690.76L959.75 690.76L959.75 692.89L966.59 692.89L966.59 690.33L973.44 690.33L973.44 689.9L980.29 689.9L980.29 690.76L987.13 690.76L987.13 692.89L993.98 692.89L993.98 693.53L1000.83 693.53L1000.83 692.25L1007.67 692.25L1007.67 691.82L1014.52 691.82L1014.52 692.89L1021.37 692.89L1021.37 690.76L1028.21 690.76L1028.21 691.18L1035.06 691.18L1035.06 688.63L1041.91 688.63L1041.91 684.79L1048.75 684.79L1048.75 620.04L1055.6 620.04L1055.6 711.4Z" fill="none" stroke="#000" stroke-width="1.3" stroke-opacity="0.88" stroke-linejoin="miter"/>
<line x1="971.75" x2="971.75" y1="611.3" y2="711.4" stroke="#808080" stroke-width="2.8" stroke-opacity="0.92"/>
<line x1="891.52" x2="891.52" y1="611.8" y2="711.4" stroke="#000" stroke-width="1.4" stroke-dasharray="7.9 4.9"/>
<line x1="1047.16" x2="1047.16" y1="611.8" y2="711.4" stroke="#000" stroke-width="1.4" stroke-dasharray="7.9 4.9"/>
</g>
<path d="M884.63 711.4v-5M884.63 611.3v5M919.07 711.4v-5M919.07 611.3v5M953.5 711.4v-5M953.5 611.3v5M987.93 711.4v-5M987.93 611.3v5M1022.37 711.4v-5M1022.37 611.3v5" stroke="#000" stroke-width="1.1" fill="none"/>
<rect x="850.2" y="611.3" width="206.6" height="100.1" fill="none" stroke="#000" stroke-width="1.9"/>
<g class="m" font-size="17.3">
<text x="834.35" y="730.4" textLength="12.4" lengthAdjust="spacingAndGlyphs">−</text>
<text x="865.75" y="729.9" text-anchor="end">12</text>
<text x="868.78" y="730.4" textLength="12.4" lengthAdjust="spacingAndGlyphs">−</text>
<text x="900.18" y="729.9" text-anchor="end">10</text>
<text x="908.07" y="730.4" textLength="12.4" lengthAdjust="spacingAndGlyphs">−</text>
<text x="929.77" y="729.9" text-anchor="end">8</text>
<text x="942.5" y="730.4" textLength="12.4" lengthAdjust="spacingAndGlyphs">−</text>
<text x="964.2" y="729.9" text-anchor="end">6</text>
<text x="976.93" y="730.4" textLength="12.4" lengthAdjust="spacingAndGlyphs">−</text>
<text x="998.63" y="729.9" text-anchor="end">4</text>
<text x="1011.37" y="730.4" textLength="12.4" lengthAdjust="spacingAndGlyphs">−</text>
<text x="1033.07" y="729.9" text-anchor="end">2</text>
<text x="1056.8" y="729.9" text-anchor="middle">0</text>
</g>
<text class="m" x="866.4" y="602.3" font-size="18.8">log</text>
<text class="m" x="896.1" y="602.3" font-size="18.8">H</text>
<text class="m" x="910.6" y="605.4" font-size="13.2">2</text>
<text class="m" x="917.7" y="602.3" font-size="18.8">S</text>
<text x="934.6" y="602.3" font-size="17.6">=</text>
<text class="m" x="956.95" y="602.3" font-size="18.8" textLength="12.1" lengthAdjust="spacingAndGlyphs">−</text>
<text class="m" x="970.5" y="602.3" font-size="18.8">4.94</text>
<text class="m" x="1004.6" y="594.9" font-size="13.4" textLength="9.1" lengthAdjust="spacingAndGlyphs">+</text>
<text class="m" x="1014.6" y="594.9" font-size="13.4">4.38</text>
<text class="m" x="1005.5" y="606.9" font-size="13.4" textLength="8.6" lengthAdjust="spacingAndGlyphs">−</text>
<text class="m" x="1015.3" y="606.9" font-size="13.4">4.66</text>
<defs><clipPath id="ch4"><rect x="1106.8" y="611.3" width="206.6" height="100.1"/></clipPath></defs>
<g clip-path="url(#ch4)">
<path d="M1106.8 711.4L1106.8 711.4L1114.17 711.4L1114.17 711.4L1121.54 711.4L1121.54 711.4L1128.9 711.4L1128.9 711.4L1136.27 711.4L1136.27 711.4L1143.64 711.4L1143.64 711.4L1151.01 711.4L1151.01 710.78L1158.38 710.78L1158.38 709.5L1165.74 709.5L1165.74 709.07L1173.11 709.07L1173.11 710.14L1180.48 710.14L1180.48 709.71L1187.85 709.71L1187.85 708.65L1195.21 708.65L1195.21 698.85L1202.58 698.85L1202.58 706.09L1209.95 706.09L1209.95 696.29L1217.32 696.29L1217.32 702.68L1224.69 702.68L1224.69 706.94L1232.05 706.94L1232.05 707.16L1239.42 707.16L1239.42 706.3L1246.79 706.3L1246.79 703.11L1254.16 703.11L1254.16 705.24L1261.53 705.24L1261.53 704.39L1268.89 704.39L1268.89 704.6L1276.26 704.6L1276.26 703.32L1283.63 703.32L1283.63 702.47L1291 702.47L1291 700.55L1298.36 700.55L1298.36 695.65L1305.73 695.65L1305.73 620.04L1313.1 620.04L1313.1 711.4Z" fill="#ff7f50" fill-opacity="0.4" stroke="none"/>
<path d="M1106.8 711.4L1106.8 711.4L1114.17 711.4L1114.17 711.4L1121.54 711.4L1121.54 711.4L1128.9 711.4L1128.9 711.4L1136.27 711.4L1136.27 711.4L1143.64 711.4L1143.64 711.4L1151.01 711.4L1151.01 710.78L1158.38 710.78L1158.38 709.5L1165.74 709.5L1165.74 709.07L1173.11 709.07L1173.11 710.14L1180.48 710.14L1180.48 709.71L1187.85 709.71L1187.85 708.65L1195.21 708.65L1195.21 698.85L1202.58 698.85L1202.58 706.09L1209.95 706.09L1209.95 696.29L1217.32 696.29L1217.32 702.68L1224.69 702.68L1224.69 706.94L1232.05 706.94L1232.05 707.16L1239.42 707.16L1239.42 706.3L1246.79 706.3L1246.79 703.11L1254.16 703.11L1254.16 705.24L1261.53 705.24L1261.53 704.39L1268.89 704.39L1268.89 704.6L1276.26 704.6L1276.26 703.32L1283.63 703.32L1283.63 702.47L1291 702.47L1291 700.55L1298.36 700.55L1298.36 695.65L1305.73 695.65L1305.73 620.04L1313.1 620.04L1313.1 711.4Z" fill="none" stroke="#000" stroke-width="1.3" stroke-opacity="0.88" stroke-linejoin="miter"/>
<line x1="1291.29" x2="1291.29" y1="611.3" y2="711.4" stroke="#808080" stroke-width="2.8" stroke-opacity="0.92"/>
<line x1="1215.62" x2="1215.62" y1="611.8" y2="711.4" stroke="#000" stroke-width="1.4" stroke-dasharray="7.9 4.9"/>
<line x1="1313.01" x2="1313.01" y1="611.8" y2="711.4" stroke="#000" stroke-width="1.4" stroke-dasharray="7.9 4.9"/>
</g>
<path d="M1139.08 711.4v-5M1139.08 611.3v5M1171.36 711.4v-5M1171.36 611.3v5M1203.64 711.4v-5M1203.64 611.3v5M1235.92 711.4v-5M1235.92 611.3v5M1268.21 711.4v-5M1268.21 611.3v5M1300.49 711.4v-5M1300.49 611.3v5" stroke="#000" stroke-width="1.1" fill="none"/>
<rect x="1106.8" y="611.3" width="206.6" height="100.1" fill="none" stroke="#000" stroke-width="1.9"/>
<g class="m" font-size="17.3">
<text x="1106.8" y="729.9" text-anchor="middle">0</text>
<text x="1139.08" y="729.9" text-anchor="middle">10</text>
<text x="1171.36" y="729.9" text-anchor="middle">20</text>
<text x="1203.64" y="729.9" text-anchor="middle">30</text>
<text x="1235.92" y="729.9" text-anchor="middle">40</text>
<text x="1268.21" y="729.9" text-anchor="middle">50</text>
<text x="1300.49" y="729.9" text-anchor="middle">60</text>
</g>
<text class="m" x="1149" y="602.3" font-size="18.8" font-style="italic">μ</text>
<text x="1165.4" y="602.3" font-size="17.6">=</text>
<text class="m" x="1187.1" y="602.3" font-size="18.8">57.15</text>
<text class="m" x="1230.8" y="594.9" font-size="13.4" textLength="9.1" lengthAdjust="spacingAndGlyphs">+</text>
<text class="m" x="1240.8" y="594.9" font-size="13.4">6.73</text>
<text class="m" x="1231.7" y="606.9" font-size="13.4" textLength="8.6" lengthAdjust="spacingAndGlyphs">−</text>
<text class="m" x="1241.5" y="606.9" font-size="13.4">23.44</text>
</svg></body></html>
